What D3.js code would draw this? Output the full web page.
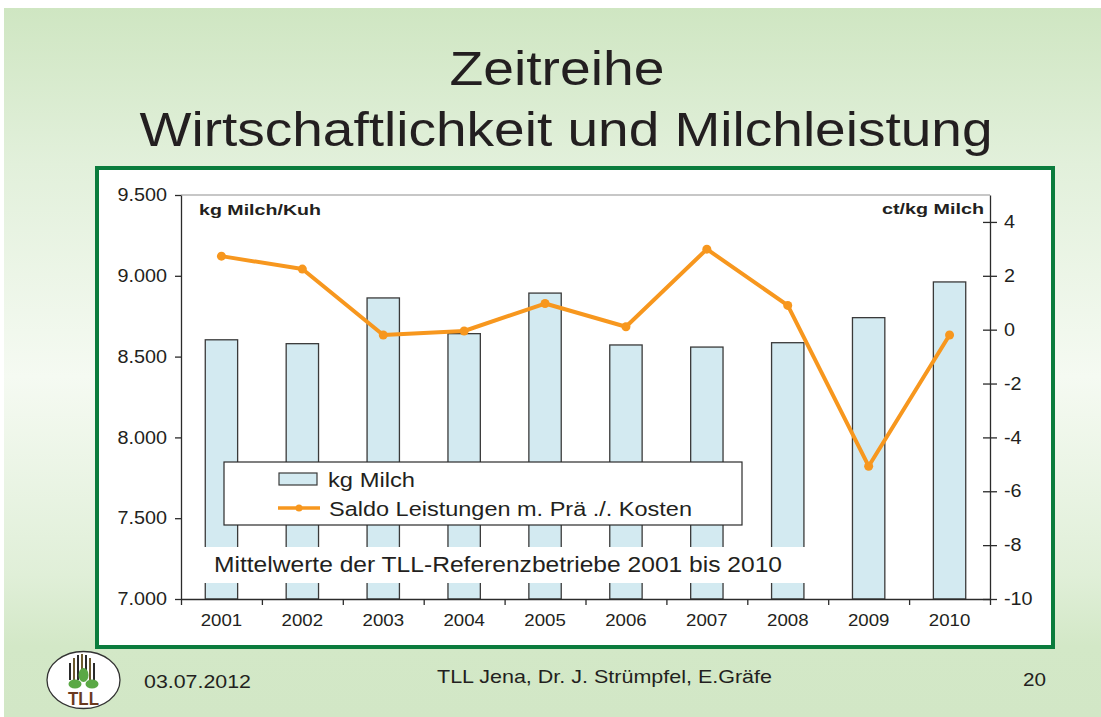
<!DOCTYPE html>
<html>
<head>
<meta charset="utf-8">
<script src="https://cdn.jsdelivr.net/npm/d3@7"></script>
<style>
  html, body { margin: 0; padding: 0; background: #ffffff; }
  svg { display: block; font-family: Arial, "Liberation Sans", sans-serif; }
</style>
</head>
<body>
<svg id="chart" width="1101" height="717"></svg>
<script>
// ---- data ----
const years = ["2001","2002","2003","2004","2005","2006","2007","2008","2009","2010"];
const milk = [8604, 8580, 8863, 8642, 8893, 8572, 8559, 8586, 8741, 8962];   // kg Milch/Kuh
const saldo = [2.73, 2.25, -0.20, -0.05, 0.97, 0.11, 2.99, 0.90, -5.07, -0.20]; // ct/kg Milch
const leftTicks = [7000, 7500, 8000, 8500, 9000, 9500];
const rightTicks = [-10, -8, -6, -4, -2, 0, 2, 4];
const titleLines = ["Zeitreihe", "Wirtschaftlichkeit und Milchleistung"];
const seriesNames = ["kg Milch", "Saldo Leistungen m. Prä ./. Kosten"];
const axisTitles = ["kg Milch/Kuh", "ct/kg Milch"];
const noteText = "Mittelwerte der TLL-Referenzbetriebe 2001 bis 2010";
const footer = { date: "03.07.2012", authors: "TLL Jena, Dr. J. Strümpfel, E.Gräfe", page: "20" };

const STRETCH = 1.13;
const textColor = "#231f20";
const barFill = "#d3eaf1";
const lineColor = "#f7971e";

const svg = d3.select("#chart");
const defs = svg.append("defs");
const grad = defs.append("linearGradient").attr("id", "bg").attr("x1", 0).attr("y1", 0).attr("x2", 0).attr("y2", 1);
[[0, "#cfe6c2"], [0.22, "#e2f0db"], [0.52, "#f5faf2"], [0.8, "#e0efd8"], [0.9, "#d3e8c7"], [1, "#d2e7c6"]]
  .forEach(([o, c]) => grad.append("stop").attr("offset", o).attr("stop-color", c));

// slide background
svg.append("rect").attr("x", 4).attr("y", 8).attr("width", 1097).attr("height", 709).attr("fill", "url(#bg)");

// title
svg.append("text").attr("class", "fixed").attr("x", 557).attr("y", 85).attr("text-anchor", "middle")
  .attr("font-size", 49).attr("fill", textColor).attr("textLength", 215).attr("lengthAdjust", "spacingAndGlyphs")
  .text(titleLines[0]);
svg.append("text").attr("class", "fixed").attr("x", 566).attr("y", 146).attr("text-anchor", "middle")
  .attr("font-size", 49).attr("fill", textColor).attr("textLength", 853).attr("lengthAdjust", "spacingAndGlyphs")
  .text(titleLines[1]);

// chart frame
svg.append("rect").attr("x", 97).attr("y", 168).attr("width", 956).attr("height", 479)
  .attr("fill", "#ffffff").attr("stroke", "#0b7c3d").attr("stroke-width", 4);

// scales
const x0 = 181, x1 = 990, yT = 195, yB = 599;
const x = d3.scaleBand().domain(years).range([x0, x1]).paddingInner(0.6).paddingOuter(0.3);
const xEdges = d3.scaleLinear().domain([0, years.length]).range([x0, x1]);
const yL = d3.scaleLinear().domain([7000, 9500]).range([yB, yT]);
const yR = d3.scaleLinear().domain([-10, 5]).range([yB, yT]);

const de = d3.formatLocale({ decimal: ",", thousands: ".", grouping: [3], currency: ["", " €"], minus: "-" });
const fmtL = de.format(",.0f");
const fmtR = de.format("d");

// top border line of plot
svg.append("line").attr("x1", x0).attr("x2", x1).attr("y1", yT).attr("y2", yT)
  .attr("stroke", "#b5b5b5").attr("stroke-width", 1.5);

// bars
svg.append("g").selectAll("rect").data(years).join("rect")
  .attr("x", d => x(d)).attr("width", x.bandwidth())
  .attr("y", (d, i) => yL(milk[i])).attr("height", (d, i) => yB - yL(milk[i]))
  .attr("fill", barFill).attr("stroke", "#3a3a3a").attr("stroke-width", 1.3);

// axes
const gL = svg.append("g").attr("transform", `translate(${x0},0)`)
  .call(d3.axisLeft(yL).tickValues(leftTicks).tickFormat(fmtL).tickSize(6).tickSizeOuter(0).tickPadding(8));
const gR = svg.append("g").attr("transform", `translate(${x1},0)`)
  .call(d3.axisRight(yR).tickValues(rightTicks).tickFormat(fmtR).tickSize(7).tickSizeOuter(0).tickPadding(7));
gR.selectAll(".tick line").attr("x1", -7);
const gB = svg.append("g").attr("transform", `translate(0,${yB})`)
  .call(d3.axisBottom(x).tickSize(0).tickPadding(15));
gB.select(".domain").remove();
const gE = svg.append("g").attr("transform", `translate(0,${yB})`)
  .call(d3.axisBottom(xEdges).ticks(years.length).tickFormat("").tickSize(6).tickSizeOuter(0));

[gL, gR, gB, gE].forEach(g => {
  g.selectAll(".domain").attr("stroke", "#2b2b2b").attr("stroke-width", 1.3);
  g.selectAll(".tick line").attr("stroke", "#2b2b2b").attr("stroke-width", 1.3);
  g.selectAll("text").attr("class", "stretch").attr("fill", textColor)
    .attr("font-family", "Arial, 'Liberation Sans', sans-serif");
});
gL.selectAll("text").attr("font-size", 17.5);
gR.selectAll("text").attr("font-size", 17.5);
gB.selectAll("text").attr("font-size", 16.5);

// axis titles
svg.append("text").attr("x", 199).attr("y", 215).attr("font-size", 15).attr("font-weight", "bold")
  .attr("fill", textColor).attr("textLength", 122).attr("lengthAdjust", "spacingAndGlyphs").text(axisTitles[0]);
svg.append("text").attr("x", 984).attr("y", 214).attr("text-anchor", "end").attr("font-size", 15).attr("font-weight", "bold")
  .attr("fill", textColor).attr("textLength", 102).attr("lengthAdjust", "spacingAndGlyphs").text(axisTitles[1]);

// legend
const lg = svg.append("g");
lg.append("rect").attr("x", 224).attr("y", 462).attr("width", 518).attr("height", 63)
  .attr("fill", "#ffffff").attr("stroke", "#2b2b2b").attr("stroke-width", 1.2);
lg.append("rect").attr("x", 279).attr("y", 473).attr("width", 38).attr("height", 12)
  .attr("fill", barFill).attr("stroke", "#3a3a3a").attr("stroke-width", 1.2);
lg.append("text").attr("x", 328).attr("y", 487).attr("font-size", 20.5).attr("fill", textColor)
  .attr("textLength", 87).attr("lengthAdjust", "spacingAndGlyphs").text(seriesNames[0]);
lg.append("line").attr("x1", 278).attr("x2", 320).attr("y1", 508).attr("y2", 508)
  .attr("stroke", lineColor).attr("stroke-width", 3.5);
lg.append("circle").attr("cx", 299).attr("cy", 508).attr("r", 3.5).attr("fill", lineColor);
lg.append("text").attr("x", 329).attr("y", 516).attr("font-size", 20.5).attr("fill", textColor)
  .attr("textLength", 363).attr("lengthAdjust", "spacingAndGlyphs").text(seriesNames[1]);

// note with white backing
svg.append("rect").attr("x", 200).attr("y", 547).attr("width", 630).attr("height", 36).attr("fill", "#ffffff");
svg.append("text").attr("x", 214).attr("y", 572).attr("font-size", 21.5).attr("fill", textColor)
  .attr("textLength", 568).attr("lengthAdjust", "spacingAndGlyphs").text(noteText);

// line series
const cx = d => x(d) + x.bandwidth() / 2;
svg.append("path").datum(years)
  .attr("d", d3.line().x(d => cx(d)).y((d, i) => yR(saldo[i])))
  .attr("fill", "none").attr("stroke", lineColor).attr("stroke-width", 4).attr("stroke-linejoin", "round");
svg.append("g").selectAll("circle").data(years).join("circle")
  .attr("cx", d => cx(d)).attr("cy", (d, i) => yR(saldo[i])).attr("r", 4.5).attr("fill", lineColor);

// footer
svg.append("text").attr("x", 144).attr("y", 688).attr("font-size", 19).attr("fill", textColor)
  .attr("textLength", 107).attr("lengthAdjust", "spacingAndGlyphs").text(footer.date);
svg.append("text").attr("x", 437).attr("y", 683).attr("font-size", 19).attr("fill", textColor)
  .attr("textLength", 335).attr("lengthAdjust", "spacingAndGlyphs").text(footer.authors);
svg.append("text").attr("x", 1046).attr("y", 686).attr("text-anchor", "end").attr("font-size", 19).attr("fill", textColor)
  .attr("textLength", 23).attr("lengthAdjust", "spacingAndGlyphs").text(footer.page);

// logo
const logo = svg.append("g");
logo.append("ellipse").attr("cx", 83.5).attr("cy", 680).attr("rx", 36.5).attr("ry", 28.5)
  .attr("fill", "#ffffff").attr("stroke", "#333333").attr("stroke-width", 1.3);
[70, 74, 78, 82, 86, 90, 94].forEach((px, i) => {
  const top = [663, 658, 655, 654, 655, 658, 663][i];
  logo.append("line").attr("x1", px).attr("x2", px).attr("y1", top).attr("y2", 680)
    .attr("stroke", i % 2 ? "#6b5a2e" : "#2a2a2a").attr("stroke-width", 2);
});
[[83.5, 675, 5, 7], [75, 684, 6.5, 4.5], [92, 684, 6.5, 4.5]].forEach(([ex, ey, rx, ry]) =>
  logo.append("ellipse").attr("cx", ex).attr("cy", ey).attr("rx", rx).attr("ry", ry).attr("fill", "#5aa845"));
logo.append("text").attr("x", 83.5).attr("y", 705).attr("text-anchor", "middle").attr("font-size", 18)
  .attr("font-weight", "bold").attr("fill", "#6b3a1f").attr("textLength", 31).attr("lengthAdjust", "spacingAndGlyphs")
  .text("TLL");

// horizontal stretch of tick labels (slide was widened)
svg.selectAll("text.stretch").each(function () {
  const w = this.getComputedTextLength();
  d3.select(this).attr("textLength", w * STRETCH).attr("lengthAdjust", "spacingAndGlyphs");
});
</script>
</body>
</html>
